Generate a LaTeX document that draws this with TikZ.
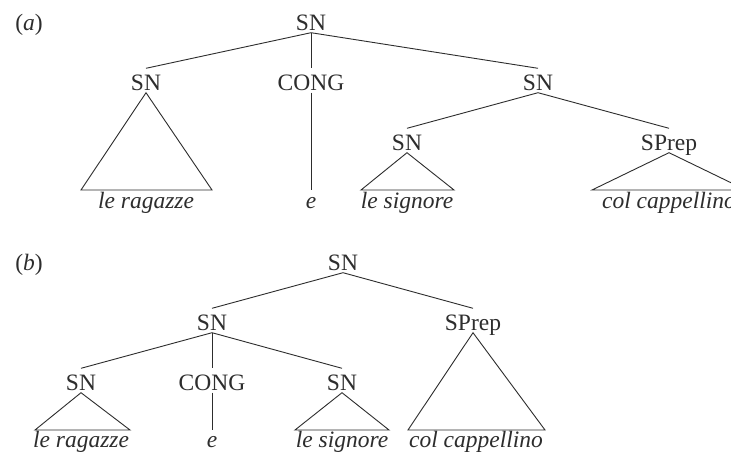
\documentclass[tikz,border=0pt]{standalone}
\usepackage{fontspec}
\setmainfont{Liberation Serif}
\definecolor{ink}{RGB}{45,45,45}
\begin{document}
\begin{tikzpicture}[x=1pt,y=-1pt,
  lab/.style={font=\fontsize{23.5}{28}\selectfont, text=ink, inner xsep=0pt, inner ysep=2.5pt, text height=19pt, text depth=0pt, anchor=base},
  word/.style={font=\fontsize{23.5}{28}\selectfont\itshape, text=ink, inner sep=0pt, anchor=base},
  tag/.style={font=\fontsize{23.5}{28}\selectfont, text=ink, inner sep=0pt, anchor=base},
  edge/.style={draw=ink, line width=0.9pt},
  tri/.style={draw=ink, line width=0.9pt, line join=miter}]
\useasboundingbox (0,0) rectangle (731,455);
\clip (0,0) rectangle (731,455);
\fill[white] (0,0) rectangle (731,455);

% ---------- (a) ----------
\node[tag] (ta) at (29,30) {(\textit{a})};
\node[lab] (a0) at (311,30) {SN};
\node[lab] (a1) at (146,90) {SN};
\node[lab] (a2) at (311,90) {CONG};
\node[lab] (a3) at (538,90) {SN};
\node[lab] (a4) at (407,150) {SN};
\node[lab] (a5) at (669,150) {SPrep};
\node[word] (wa1) at (146,208) {le ragazze};
\node[word] (wa2) at (311,208) {e};
\node[word] (wa4) at (407,208) {le signore};
\node[word] (wa5) at (669,208) {col cappellino};
\coordinate (a1L) at (81,190);
\coordinate (a1R) at (212,190);
\coordinate (a2B) at (311,190);
\coordinate (a4L) at (361,190);
\coordinate (a4R) at (454,190);
\coordinate (a5L) at (592,190);
\coordinate (a5R) at (746,190);

\draw[edge] (a0.south) -- (a1.north);
\draw[edge] (a0.south) -- (a2.north);
\draw[edge] (a0.south) -- (a3.north);
\draw[edge] (a3.south) -- (a4.north);
\draw[edge] (a3.south) -- (a5.north);
\draw[edge] (a2.south) -- (a2B);
\draw[tri] (a1.south) -- (a1L) -- (a1R) -- cycle;
\draw[tri] (a4.south) -- (a4L) -- (a4R) -- cycle;
\draw[tri] (a5.south) -- (a5L) -- (a5R) -- cycle;

% ---------- (b) ----------
\node[tag] (tb) at (29,270) {(\textit{b})};
\node[lab] (b0) at (343,270) {SN};
\node[lab] (b1) at (212,330) {SN};
\node[lab] (b2) at (473,330) {SPrep};
\node[lab] (b3) at (81,390) {SN};
\node[lab] (b4) at (212,390) {CONG};
\node[lab] (b5) at (342,390) {SN};
\node[word] (wb3) at (81,447) {le ragazze};
\node[word] (wb4) at (212,447) {e};
\node[word] (wb5) at (342,447) {le signore};
\node[word] (wb2) at (476,447) {col cappellino};
\coordinate (b3L) at (35,430);
\coordinate (b3R) at (130,430);
\coordinate (b4B) at (212,430);
\coordinate (b5L) at (295,430);
\coordinate (b5R) at (389,430);
\coordinate (b2L) at (408,430);
\coordinate (b2R) at (545,430);

\draw[edge] (b0.south) -- (b1.north);
\draw[edge] (b0.south) -- (b2.north);
\draw[edge] (b1.south) -- (b3.north);
\draw[edge] (b1.south) -- (b4.north);
\draw[edge] (b1.south) -- (b5.north);
\draw[edge] (b4.south) -- (b4B);
\draw[tri] (b3.south) -- (b3L) -- (b3R) -- cycle;
\draw[tri] (b5.south) -- (b5L) -- (b5R) -- cycle;
\draw[tri] (b2.south) -- (b2L) -- (b2R) -- cycle;
\end{tikzpicture}
\end{document}
